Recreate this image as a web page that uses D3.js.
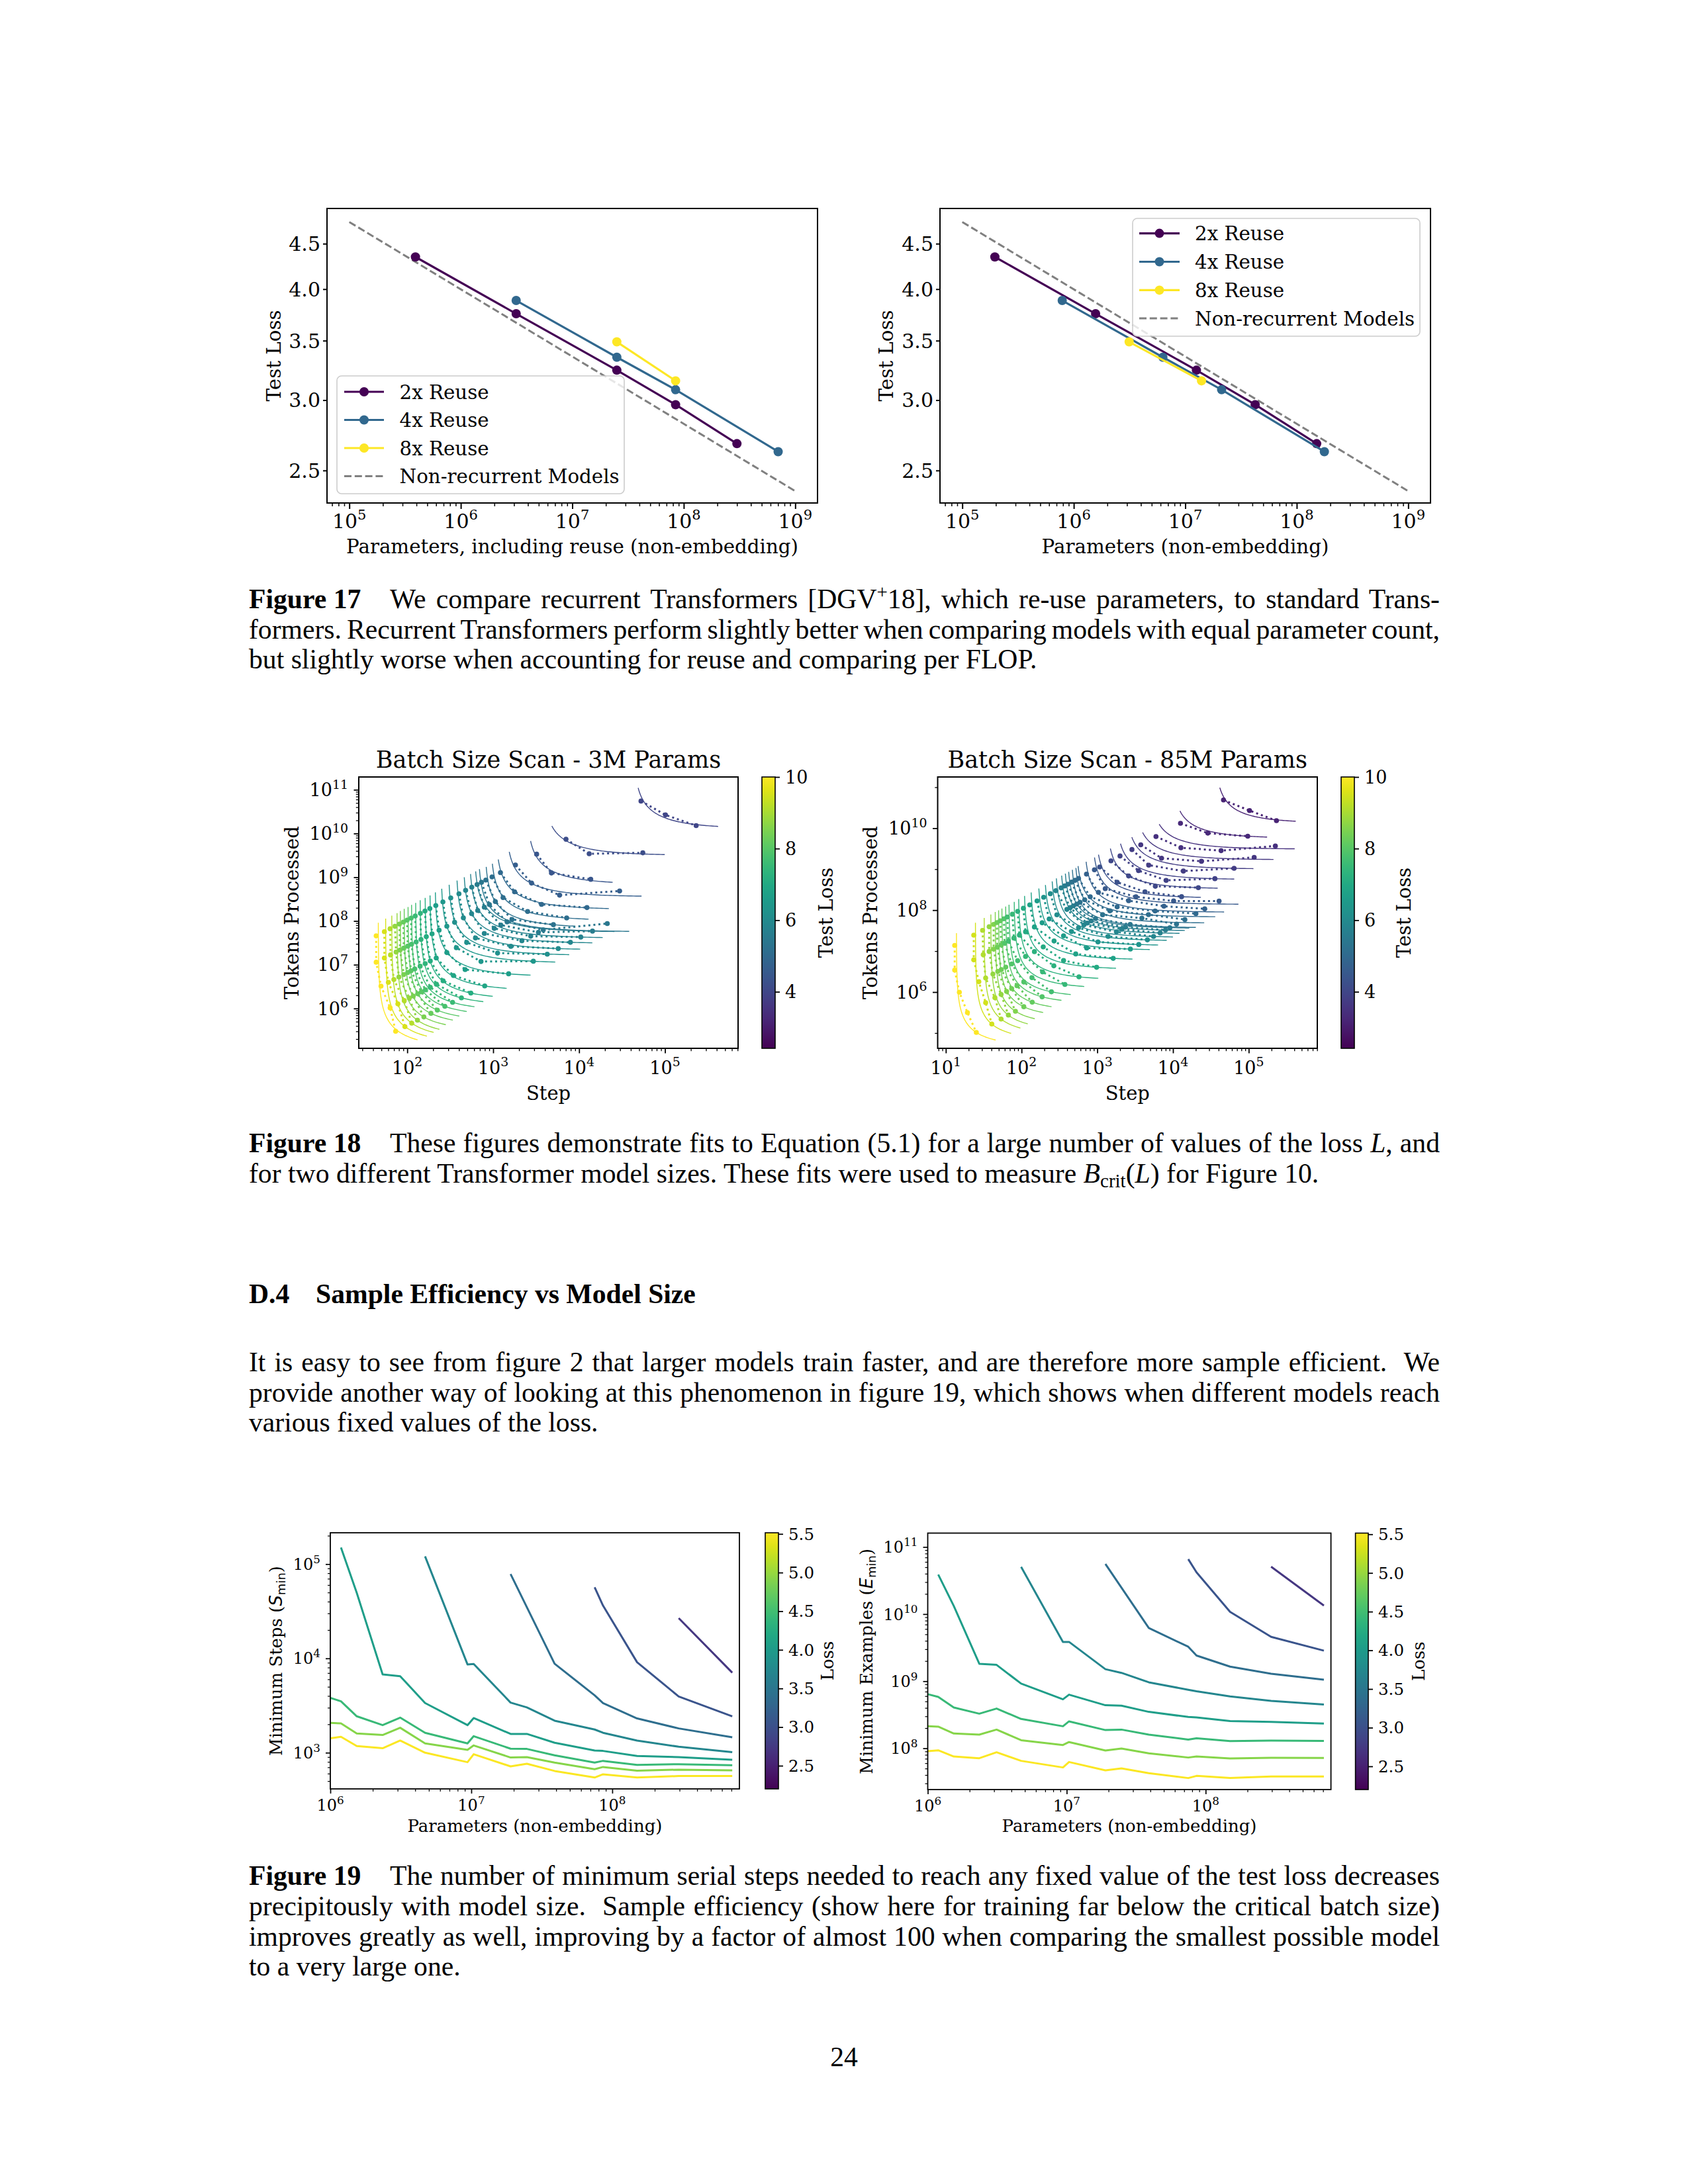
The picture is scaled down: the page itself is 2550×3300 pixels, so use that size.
<!DOCTYPE html>
<html><head><meta charset="utf-8">
<script src="https://cdn.jsdelivr.net/npm/d3@7"></script>
<style>body{margin:0;background:#fff}</style>
</head><body>
<svg id="page" width="2550" height="3300" xmlns="http://www.w3.org/2000/svg"></svg>
<script>
// ================= DATA =================
// ---- Figure 17 ----
const reuseNames = ["2x Reuse", "4x Reuse", "8x Reuse"];
const paramsWithReuse2x = [3.92e5, 3.14e6, 2.51e7, 8.45e7, 3.0e8];
const paramsWithReuse4x = [3.14e6, 2.51e7, 8.45e7, 7.03e8];
const paramsWithReuse8x = [2.51e7, 8.45e7];
const paramsNonEmb2x = [1.96e5, 1.57e6, 1.26e7, 4.24e7, 1.51e8];
const paramsNonEmb4x = [7.88e5, 6.3e6, 2.12e7, 1.77e8];
const paramsNonEmb8x = [3.14e6, 1.40e7];
const testLoss2x = [4.348, 3.753, 3.242, 2.965, 2.680];
const testLoss4x = [3.884, 3.353, 3.082, 2.625];
const testLoss8x = [3.489, 3.154];
const nonRecurrentParams = [1e5, 1e9];
const nonRecurrentLoss = [4.76, 2.37];
const f17YTicks = [2.5, 3.0, 3.5, 4.0, 4.5];

// ---- Figure 18 ----  (batch sizes in tokens; steps at which each loss level was reached)
const batchSizes = [1048576, 262144, 65536, 16384, 4096];
const loss3M = [10.0, 9.54, 9.16, 8.78, 8.48, 8.25, 8.02, 7.79, 7.56, 7.34, 7.11, 6.88, 6.65, 6.42, 6.20, 6.04, 5.89, 5.74, 5.59, 5.43, 5.28, 5.13, 4.98, 4.67, 4.44, 4.22, 3.99];
const steps3M_B1M = [43.5, 54.2, 63.2, 72.0, 81.0, 90.1, 99.6, 110.9, 123.9, 142.2, 160.8, 183.3, 215, 260, 321, 400, 478, 564, 650, 731, 822, 971, 1216, 1818, 3209, 7047, 52600];
const steps3M_B256K = [43.5, 54.2, 63.9, 74.2, 82.4, 91.2, 101.4, 112.2, 126.9, 144.6, 166.7, 194.5, 234.8, 289, 356, 450, 561, 661, 789, 904, 1061, 1305, 1776, 2800, 4769, 13120, 101400];
const steps3M_B64K = [49.5, 60.3, 69.9, 80.0, 91.2, 101.4, 110.9, 122.5, 141.3, 161.8, 185.5, 217.5, 289, 373, 492, 623, 789, 1030, 1230, 1453, 1656, 2518, 3657, 5932, 13680, 55200, 230700];
const steps3M_B16K = [63.2, 77.8, 92.3, 105.7, 117.5, 132.3, 146.3, 162.8, 185.5, 218.6, 261.5, 345, 472, 722, 1126, 1607, 2160, 2737, 3365, 3831, 5027, 7174, 12360, 29650, null, null, null];
const steps3M_B4K = [73.3, 94.0, 112.8, 131.5, 156.2, 188.8, 224, 274, 337, 427, 550, 798, 1514, 2937, 4264, 5723, 7932, 10470, 14330, 21300, null, null, null, null, null, null, null];
const sMin3M = [46, 56, 66, 76, 83, 92, 102, 112, 125, 141, 161, 183, 210, 247, 300, 370, 447, 527, 600, 667, 797, 930, 1065, 1395, 2449, 3790, 43000];
const eMin3M = [1.25e5, 1.56e5, 1.92e5, 2.27e5, 3.0e5, 3.96e5, 5.0e5, 6.6e5, 8.7e5, 1.17e6, 1.59e6, 2.52e6, 5.34e6, 1.10e7, 1.63e7, 2.19e7, 3.07e7, 4.07e7, 5.62e7, 5.7e7, 6.93e7, 1.02e8, 1.83e8, 3.6e8, 6.9e8, 3.17e9, 1.3e10];

const loss85M = [10.0, 9.47, 9.09, 8.78, 8.55, 8.33, 8.17, 7.95, 7.72, 7.49, 7.26, 7.03, 6.80, 6.58, 6.35, 6.12, 5.89, 5.74, 5.59, 5.43, 5.28, 5.13, 4.98, 4.75, 4.52, 4.29, 4.06, 3.91, 3.76, 3.61, 3.46, 3.30, 3.15];
const steps85M_B1M = [13.1, 23.4, 30.6, 37.4, 42.8, 47.3, 52.3, 58.6, 64.8, 75.7, 88.9, 105.8, 128.5, 160.4, 196.1, 240, 284, 333, 371, 410, 460, 509, 566, 721, 918, 1078, 1518, 1999, 2872, 3755, 5965, 12565, 46480];
const steps85M_B256K = [13.1, 23.4, 31.2, 37.4, 42.8, 47.9, 54.1, 59.8, 67.0, 79.3, 93.8, 113.1, 148.0, 187.1, 232, 293, 397, 439, 485, 537, 593, 683, 808, 1036, 1275, 1832, 2597, 3512, 4782, 7055, 12735, 28870, 102600];
const steps85M_B64K = [15.1, 27.3, 33.6, 41.9, 48.6, 54.1, 61.9, 74.1, 88.9, 113.1, 148, 193.5, 269, 359, 457, 566, 665, 736, 830, 949, 1177, 1468, 1832, 2597, 3239, 4266, 5846, 8123, 13710, 23760, 43170, 97230, 232600];
const steps85M_B16K = [19.3, 33.6, 44.5, 53.7, 63.5, 74.1, 87.1, 107.2, 137.4, 189.7, 267, 359, 520, 726, 1022, 1391, 1796, 2100, 2348, 2722, 3884, 4750, 5807, 7596, 10200, 12990, 21630, 35780, 64140, 118100, 224900, null, null];
const steps85M_B4K = [25.3, 40.5, 53.7, 67.0, 83.1, 107.2, 138.4, 187.1, 248, 374, 574, 981, 1623, 2740, 3535, 4593, 5541, 6776, 7961, 9104, 11130, 14364, 20090, 26280, 40640, null, null, null, null, null, null, null, null];
const sMin85M = [13.8, 24.6, 32.1, 39.3, 44.9, 49.7, 54.9, 61.5, 68.0, 79.5, 90.7, 107.9, 131, 164, 200, 245, 278, 326, 364, 402, 451, 499, 526, 671, 854, 949, 1336, 1759, 2384, 3117, 4951, 9675, 35800];
const eMin85M = [4.7e4, 6.5e4, 8.85e4, 1.13e5, 1.565e5, 2.35e5, 3.42e5, 5.14e5, 7.38e5, 1.206e6, 1.98e6, 3.58e6, 6.11e6, 1.055e7, 1.366e7, 1.781e7, 2.156e7, 2.642e7, 3.112e7, 3.564e7, 3.7e7, 4.8e7, 6.8e7, 8.9e7, 1.38e8, 1.97e8, 3.32e8, 5.57e8, 1.01e9, 1.7e9, 3.1e9, 5.74e9, 1.35e10];
const testLossTicks = [4, 6, 8, 10];

// ---- Figure 19 ----
const modelSizes = [1.0e6, 1.19e6, 1.54e6, 2.35e6, 3.13e6, 4.7e6, 9.4e6, 1.04e7, 1.9e7, 2.48e7, 3.9e7, 7.5e7, 8.6e7, 1.5e8, 2.96e8, 7.1e8];
const lossLevels19 = [5.5, 4.91, 4.44, 4.05, 3.72, 3.39, 3.06, 2.73];
const minSteps = [
  [1419, 1473, 1175, 1114, 1345, 1000, 793, 963, 716, 764, 640, 545, 590, 545, 565, 565],
  [2070, 2048, 1600, 1540, 1838, 1253, 1072, 1194, 889, 898, 785, 668, 705, 643, 661, 650],
  [3819, 3505, 2432, 1960, 2353, 1626, 1253, 1497, 1102, 1096, 938, 785, 819, 743, 755, 736],
  [null, 149700, 49600, 6760, 6480, 3360, 1960, 2330, 1581, 1581, 1274, 1055, 1044, 923, 898, 841],
  [null, null, null, null, null, 120700, 8630, 8720, 3397, 3020, 2185, 1762, 1626, 1345, 1157, 1012],
  [null, null, null, null, null, null, null, null, 78500, null, 8770, 4058, 3360, 2306, 1808, 1459],
  [null, null, null, null, null, null, null, null, null, null, null, 56800, 36300, 9100, 3947, 2432],
  [null, null, null, null, null, null, null, null, null, null, null, null, null, null, 26700, 7060]
];
const minExamples = [
  [9.06e7, 9.33e7, 7.55e7, 7.11e7, 8.73e7, 6.50e7, 5.18e7, 6.25e7, 4.69e7, 5.02e7, 4.25e7, 3.60e7, 3.88e7, 3.62e7, 3.79e7, 3.79e7],
  [2.13e8, 2.10e8, 1.66e8, 1.60e8, 1.90e8, 1.32e8, 1.12e8, 1.24e8, 9.27e7, 9.93e7, 8.40e7, 7.28e7, 7.55e7, 7.06e7, 7.22e7, 7.17e7],
  [6.40e8, 5.84e8, 4.06e8, 3.28e8, 3.91e8, 2.74e8, 2.13e8, 2.52e8, 1.87e8, 1.90e8, 1.60e8, 1.35e8, 1.41e8, 1.28e8, 1.30e8, 1.29e8],
  [null, 3.88e10, 1.32e10, 1.82e9, 1.75e9, 9.20e8, 5.37e8, 6.30e8, 4.38e8, 4.31e8, 3.49e8, 2.93e8, 2.89e8, 2.54e8, 2.48e8, 2.34e8],
  [null, null, null, null, null, 5.06e10, 3.85e9, 3.85e9, 1.51e9, 1.33e9, 9.63e8, 7.45e8, 7.06e8, 5.93e8, 5.10e8, 4.48e8],
  [null, null, null, null, null, null, null, null, 5.59e10, null, 6.21e9, 3.26e9, 2.41e9, 1.65e9, 1.29e9, 1.05e9],
  [null, null, null, null, null, null, null, null, null, null, null, 6.59e10, 4.19e10, 1.08e10, 4.58e9, 2.85e9],
  [null, null, null, null, null, null, null, null, null, null, null, null, null, null, 5.09e10, 1.34e10]
];
const lossTicks19 = [2.5, 3.0, 3.5, 4.0, 4.5, 5.0, 5.5];

// ================= DRAWING =================
const svg = d3.select("#page");
svg.append("rect").attr("width", 2550).attr("height", 3300).attr("fill", "#fff");
const defs = svg.append("defs");
const SERIF = "'DejaVu Serif', serif";
const SANS = "'DejaVu Sans', sans-serif";
const TIMES = "'Liberation Serif', 'Times New Roman', serif";
let clipId = 0;

function logMinor(lo, hi) {
  const out = [];
  for (let e = Math.floor(Math.log10(lo)) - 1; e <= Math.ceil(Math.log10(hi)); e++)
    for (let k = 2; k <= 9; k++) { const v = k * Math.pow(10, e); if (v >= lo && v <= hi) out.push(v); }
  return out;
}
function ticks(g, scale, orient, values, size, width) {
  const mk = orient === "bottom" ? d3.axisBottom : orient === "left" ? d3.axisLeft : d3.axisRight;
  const a = g.append("g").call(mk(scale).tickValues(values).tickSize(size).tickSizeOuter(0).tickFormat(""));
  a.select(".domain").remove();
  a.selectAll("line").attr("stroke", "#000").attr("stroke-width", width);
  return a;
}
function powLabel(g, x, y, exp, size, anchor) {
  const t = g.append("text").attr("x", x).attr("y", y).attr("font-family", SERIF)
    .attr("font-size", size).attr("text-anchor", anchor).attr("fill", "#000");
  t.append("tspan").text("10");
  t.append("tspan").attr("dy", -0.42 * size).attr("font-size", 0.7 * size).text(exp);
  return t;
}
function clip(x0, y0, x1, y1) {
  const id = "clip" + (clipId++);
  defs.append("clipPath").attr("id", id).append("rect").attr("x", x0).attr("y", y0).attr("width", x1 - x0).attr("height", y1 - y0);
  return "url(#" + id + ")";
}
function box(g, x0, y0, x1, y1, w) {
  g.append("rect").attr("x", x0).attr("y", y0).attr("width", x1 - x0).attr("height", y1 - y0)
    .attr("fill", "none").attr("stroke", "#000").attr("stroke-width", w);
}
function rotLabel(g, x, y, size, family, build) {
  const t = g.append("text").attr("transform", `translate(${x},${y}) rotate(-90)`)
    .attr("text-anchor", "middle").attr("font-family", family).attr("font-size", size).attr("fill", "#000");
  build(t);
  return t;
}
function colorbar(g, x0, x1, y0, y1, dom, tickVals, fmt, fs, labelX, labelText, labelFs) {
  const gid = "grad" + (clipId++);
  const grad = defs.append("linearGradient").attr("id", gid).attr("x1", 0).attr("y1", 1).attr("x2", 0).attr("y2", 0);
  d3.range(0, 21).forEach(i => grad.append("stop").attr("offset", i / 20).attr("stop-color", d3.interpolateViridis(i / 20)));
  g.append("rect").attr("x", x0).attr("y", y0).attr("width", x1 - x0).attr("height", y1 - y0).attr("fill", `url(#${gid})`);
  box(g, x0, y0, x1, y1, 1.6);
  const cs = d3.scaleLinear().domain(dom).range([y1, y0]);
  const tg = g.append("g").attr("transform", `translate(${x1},0)`);
  ticks(tg, cs, "right", tickVals, 7, 1.8);
  tickVals.forEach(v => g.append("text").attr("x", x1 + 15).attr("y", cs(v) + 0.36 * fs)
    .attr("font-family", SERIF).attr("font-size", fs).attr("fill", "#000").text(fmt(v)));
  rotLabel(g, labelX, (y0 + y1) / 2, labelFs, SERIF, t => t.text(labelText));
}

// ---------- Figure 17 ----------
const reuseColors = ["#440154", "#31688e", "#fde725"];
function fig17(x0, x1, xsets, xLabel, ylabX, legend) {
  const y0 = 315, y1 = 760, g = svg.append("g");
  const xs = d3.scaleLog().domain([Math.pow(10, 4.8), Math.pow(10, 9.2)]).range([x0, x1]);
  const ys = d3.scaleLog().domain([2.298, 4.93]).range([y1, y0]);
  const cp = clip(x0, y0, x1, y1);
  const pg = g.append("g").attr("clip-path", cp);
  const line = d3.line().x(d => xs(d[0])).y(d => ys(d[1]));
  pg.append("path").datum(d3.zip(nonRecurrentParams, nonRecurrentLoss)).attr("d", line)
    .attr("fill", "none").attr("stroke", "#808080").attr("stroke-width", 3).attr("stroke-dasharray", "11,4.8");
  const ysets = [testLoss2x, testLoss4x, testLoss8x];
  xsets.forEach((xv, i) => {
    const pts = d3.zip(xv, ysets[i]);
    pg.append("path").datum(pts).attr("d", line).attr("fill", "none").attr("stroke", reuseColors[i]).attr("stroke-width", 3.2);
    pg.selectAll(null).data(pts).enter().append("circle").attr("cx", d => xs(d[0])).attr("cy", d => ys(d[1]))
      .attr("r", 7).attr("fill", reuseColors[i]);
  });
  box(g, x0, y0, x1, y1, 2);
  const bx = g.append("g").attr("transform", `translate(0,${y1})`);
  ticks(bx, xs, "bottom", [1e5, 1e6, 1e7, 1e8, 1e9], 9, 2);
  ticks(bx, xs, "bottom", logMinor(xs.domain()[0], xs.domain()[1]), 5, 1.5);
  [5, 6, 7, 8, 9].forEach(e => powLabel(g, xs(Math.pow(10, e)), y1 + 38, String(e), 30, "middle"));
  const ly = g.append("g").attr("transform", `translate(${x0},0)`);
  ticks(ly, ys, "left", f17YTicks, 6, 2);
  f17YTicks.forEach(v => g.append("text").attr("x", x0 - 10).attr("y", ys(v) + 10.8).attr("text-anchor", "end")
    .attr("font-family", SERIF).attr("font-size", 30).attr("fill", "#000").text(v.toFixed(1)));
  g.append("text").attr("x", (x0 + x1) / 2).attr("y", 836).attr("text-anchor", "middle")
    .attr("font-family", SERIF).attr("font-size", 29.3).attr("fill", "#000").text(xLabel);
  rotLabel(g, ylabX, (y0 + y1) / 2, 29.3, SERIF, t => t.text("Test Loss"));
  // legend
  const L = legend;
  g.append("rect").attr("x", L.x).attr("y", L.y).attr("width", L.w).attr("height", L.h).attr("rx", 7)
    .attr("fill", "#fff").attr("fill-opacity", 0.8).attr("stroke", "#cccccc").attr("stroke-width", 1.6);
  const names = reuseNames.concat(["Non-recurrent Models"]);
  names.forEach((n, i) => {
    const cy = L.rows[i];
    if (i < 3) {
      g.append("line").attr("x1", L.hx0).attr("x2", L.hx1).attr("y1", cy).attr("y2", cy).attr("stroke", reuseColors[i]).attr("stroke-width", 3.2);
      g.append("circle").attr("cx", (L.hx0 + L.hx1) / 2).attr("cy", cy).attr("r", 7).attr("fill", reuseColors[i]);
    } else {
      g.append("line").attr("x1", L.hx0).attr("x2", L.hx1).attr("y1", cy).attr("y2", cy).attr("stroke", "#808080")
        .attr("stroke-width", 3).attr("stroke-dasharray", "11,4.8");
    }
    g.append("text").attr("x", L.tx).attr("y", cy + 10.5).attr("font-family", SERIF).attr("font-size", 29.3).attr("fill", "#000").text(n);
  });
}
fig17(494, 1235, [paramsWithReuse2x, paramsWithReuse4x, paramsWithReuse8x], "Parameters, including reuse (non-embedding)", 424,
  { x: 509, y: 568, w: 434, h: 178, rows: [592, 634.5, 677, 719.5], hx0: 520, hx1: 580, tx: 603.5 });
fig17(1420, 2161, [paramsNonEmb2x, paramsNonEmb4x, paramsNonEmb8x], "Parameters (non-embedding)", 1349,
  { x: 1711, y: 330, w: 434, h: 178, rows: [352.6, 395.5, 438.4, 481], hx0: 1721, hx1: 1782, tx: 1805 });

// ---------- Figure 18 ----------
function fig18(cfg) {
  const { x0, x1, y0, y1, xDom, yDom, xMajor, yMajor, yMinor, title, rows, loss, sMin, eMin, cbx0, cbx1, ylabX, cbLabX } = cfg;
  const g = svg.append("g");
  const xs = d3.scaleLog().domain(xDom).range([x0, x1]);
  const ys = d3.scaleLog().domain(yDom).range([y1, y0]);
  const cdom = [2.42, 10];
  const col = v => d3.interpolateViridis((v - cdom[0]) / (cdom[1] - cdom[0]));
  const pg = g.append("g").attr("clip-path", clip(x0, y0, x1, y1));
  const line = d3.line().x(d => xs(d[0])).y(d => ys(d[1]));
  const curves = loss.map((L, i) => {
    const pts = [];
    rows.forEach((r, j) => { if (r[i] != null) pts.push([r[i], r[i] * batchSizes[j]]); });
    return { L, pts, sMin: sMin[i], eMin: eMin[i] };
  });
  // fitted curves (S/Smin - 1)(E/Emin - 1) = 1
  curves.forEach(c => {
    const eTop = 2 * d3.max(c.pts, d => d[1]);
    const sEnd = 1.8 * d3.max(c.pts, d => d[0]);
    const s0 = c.sMin * eTop / (eTop - c.eMin);
    const u0 = Math.log(s0 - c.sMin), u1 = Math.log(sEnd - c.sMin);
    const fit = d3.range(0, 81).map(k => { const S = c.sMin + Math.exp(u0 + (u1 - u0) * k / 80); return [S, c.eMin * S / (S - c.sMin)]; });
    pg.append("path").datum(fit).attr("d", line).attr("fill", "none").attr("stroke", col(c.L)).attr("stroke-width", 1.4);
  });
  curves.forEach(c => {
    pg.append("path").datum(c.pts).attr("d", line).attr("fill", "none").attr("stroke", col(c.L))
      .attr("stroke-width", 3).attr("stroke-dasharray", "3,4.6");
    pg.selectAll(null).data(c.pts).enter().append("circle").attr("cx", d => xs(d[0])).attr("cy", d => ys(d[1]))
      .attr("r", 3.8).attr("fill", col(c.L));
  });
  box(g, x0, y0, x1, y1, 2);
  const bx = g.append("g").attr("transform", `translate(0,${y1})`);
  ticks(bx, xs, "bottom", xMajor, 7.5, 1.8);
  ticks(bx, xs, "bottom", logMinor(xDom[0], xDom[1]), 4.2, 1.3);
  xMajor.forEach(v => powLabel(g, xs(v), y1 + 38.5, String(Math.round(Math.log10(v))), 27, "middle"));
  const ly = g.append("g").attr("transform", `translate(${x0},0)`);
  ticks(ly, ys, "left", yMajor, 7.5, 1.8);
  ticks(ly, ys, "left", yMinor, 4.2, 1.3);
  yMajor.forEach(v => powLabel(g, x0 - 16, ys(v) + 9.8, String(Math.round(Math.log10(v))), 27, "end"));
  g.append("text").attr("x", (x0 + x1) / 2).attr("y", 1661.5).attr("text-anchor", "middle")
    .attr("font-family", SERIF).attr("font-size", 29).attr("fill", "#000").text("Step");
  g.append("text").attr("x", (x0 + x1) / 2).attr("y", 1160).attr("text-anchor", "middle")
    .attr("font-family", SERIF).attr("font-size", 35).attr("fill", "#000").text(title);
  rotLabel(g, ylabX, (y0 + y1) / 2, 29, SERIF, t => t.text("Tokens Processed"));
  colorbar(g, cbx0, cbx1, y0, y1, cdom, testLossTicks, v => String(v), 27, cbLabX, "Test Loss", 29);
}
fig18({ x0: 542, x1: 1115, y0: 1174, y1: 1584, xDom: [Math.pow(10, 1.436), Math.pow(10, 5.851)], yDom: [Math.pow(10, 5.089), Math.pow(10, 11.292)],
  xMajor: [1e2, 1e3, 1e4, 1e5], yMajor: [1e6, 1e7, 1e8, 1e9, 1e10, 1e11], yMinor: logMinor(Math.pow(10, 5.089), Math.pow(10, 11.292)),
  title: "Batch Size Scan - 3M Params", rows: [steps3M_B1M, steps3M_B256K, steps3M_B64K, steps3M_B16K, steps3M_B4K],
  loss: loss3M, sMin: sMin3M, eMin: eMin3M, cbx0: 1151, cbx1: 1171, ylabX: 450.5, cbLabX: 1258 });
fig18({ x0: 1416.5, x1: 1990, y0: 1174, y1: 1584, xDom: [Math.pow(10, 0.8925), Math.pow(10, 5.906)], yDom: [Math.pow(10, 4.627), Math.pow(10, 11.25)],
  xMajor: [1e1, 1e2, 1e3, 1e4, 1e5], yMajor: [1e6, 1e8, 1e10], yMinor: [1e5, 1e7, 1e9, 1e11],
  title: "Batch Size Scan - 85M Params", rows: [steps85M_B1M, steps85M_B256K, steps85M_B64K, steps85M_B16K, steps85M_B4K],
  loss: loss85M, sMin: sMin85M, eMin: eMin85M, cbx0: 2026, cbx1: 2046, ylabX: 1325, cbLabX: 2130.6 });

// ---------- Figure 19 ----------
function fig19(cfg) {
  const { x0, x1, y0, y1, yDom, yMajor, values, ylabX, cbx0, cbx1, cbLabX, yLetter, yWord } = cfg;
  const g = svg.append("g");
  const xs = d3.scaleLog().domain([1e6, Math.pow(10, 8.902)]).range([x0, x1]);
  const ys = d3.scaleLog().domain(yDom).range([y1, y0]);
  const cdom = [2.2, 5.515];
  const col = v => d3.interpolateViridis((v - cdom[0]) / (cdom[1] - cdom[0]));
  const pg = g.append("g").attr("clip-path", clip(x0, y0, x1, y1));
  const line = d3.line().x(d => xs(d[0])).y(d => ys(d[1]));
  values.forEach((row, i) => {
    const pts = modelSizes.map((n, j) => [n, row[j]]).filter(d => d[1] != null);
    pg.append("path").datum(pts).attr("d", line).attr("fill", "none").attr("stroke", col(lossLevels19[i]))
      .attr("stroke-width", 3).attr("stroke-linejoin", "round");
  });
  box(g, x0, y0, x1, y1, 1.8);
  const bx = g.append("g").attr("transform", `translate(0,${y1})`);
  ticks(bx, xs, "bottom", [1e6, 1e7, 1e8], 7, 1.7);
  ticks(bx, xs, "bottom", logMinor(1e6, Math.pow(10, 8.902)), 4, 1.2);
  [6, 7, 8].forEach(e => powLabel(g, xs(Math.pow(10, e)), y1 + 33, String(e), 24, "middle"));
  const ly = g.append("g").attr("transform", `translate(${x0},0)`);
  ticks(ly, ys, "left", yMajor, 7, 1.7);
  ticks(ly, ys, "left", logMinor(yDom[0], yDom[1]), 4, 1.2);
  yMajor.forEach(v => powLabel(g, x0 - 15, ys(v) + 8.7, String(Math.round(Math.log10(v))), 24, "end"));
  g.append("text").attr("x", (x0 + x1) / 2).attr("y", 2768).attr("text-anchor", "middle")
    .attr("font-family", SERIF).attr("font-size", 26).attr("fill", "#000").text("Parameters (non-embedding)");
  rotLabel(g, ylabX, (y0 + y1) / 2, 26, SERIF, t => {
    t.append("tspan").text(yWord + " (");
    t.append("tspan").attr("font-family", SANS).attr("font-style", "italic").text(yLetter);
    t.append("tspan").attr("font-family", SANS).attr("font-size", 18).attr("dy", 5).text("min");
    t.append("tspan").attr("dy", -5).text(")");
  });
  colorbar(g, cbx0, cbx1, y0, y1, cdom, lossTicks19, v => v.toFixed(1), 24.5, cbLabX, "Loss", 26);
}
fig19({ x0: 499, x1: 1117, y0: 2316, y1: 2703, yDom: [Math.pow(10, 2.616), Math.pow(10, 5.332)], yMajor: [1e3, 1e4, 1e5],
  values: minSteps, ylabX: 426, cbx0: 1156, cbx1: 1176, cbLabX: 1258.5, yLetter: "S", yWord: "Minimum Steps" });
fig19({ x0: 1401.5, x1: 2010.6, y0: 2316.5, y1: 2704, yDom: [Math.pow(10, 7.385), Math.pow(10, 11.207)], yMajor: [1e8, 1e9, 1e10, 1e11],
  values: minExamples, ylabX: 1318, cbx0: 2047.6, cbx1: 2067, cbLabX: 2151.5, yLetter: "E", yWord: "Minimum Examples" });

// ================= PAGE TEXT =================
const FS = 41.67, LM = 376, RM = 2175, CAPX = 589;
function textLine(y, x0, x1, segs, justify, opts) {
  opts = opts || {};
  const t = svg.append("text").attr("x", x0).attr("y", y).attr("font-family", TIMES)
    .attr("font-size", opts.fs || FS).attr("fill", "#000").style("white-space", "pre");
  segs.forEach(s => {
    if (typeof s === "string") s = { t: s };
    const ts = t.append("tspan").text(s.t);
    if (s.b) ts.attr("font-weight", "bold");
    if (s.i) ts.attr("font-style", "italic");
    if (s.dy) ts.attr("dy", s.dy);
    if (s.fs) ts.attr("font-size", s.fs);
  });
  if (justify) {
    const w = t.node().getComputedTextLength();
    const txt = segs.map(s => typeof s === "string" ? s : s.t).join("");
    const n = (txt.match(/ /g) || []).length;
    if (n > 0) t.attr("word-spacing", (x1 - x0 - w) / n);
  }
  return t;
}
// Figure 17 caption
textLine(919, LM, RM, [{ t: "Figure 17", b: true }], false);
textLine(919, CAPX, RM, ["We compare recurrent Transformers [DGV", { t: "+", fs: 29, dy: -15 }, { t: "18], which re-use parameters, to standard Trans-", dy: 15 }], true);
textLine(964.5, LM, RM, ["formers. Recurrent Transformers perform slightly better when comparing models with equal parameter count,"], true);
textLine(1010, LM, RM, ["but slightly worse when accounting for reuse and comparing per FLOP."], false);
// Figure 18 caption
textLine(1741, LM, RM, [{ t: "Figure 18", b: true }], false);
textLine(1741, CAPX, RM, ["These figures demonstrate fits to Equation (5.1) for a large number of values of the loss ", { t: "L", i: true }, ", and"], true);
textLine(1786.5, LM, RM, ["for two different Transformer model sizes. These fits were used to measure ", { t: "B", i: true }, { t: "crit", fs: 29, dy: 7 }, { t: "(", dy: -7 }, { t: "L", i: true }, ") for Figure 10."], false);
// Section heading
textLine(1969, LM, RM, [{ t: "D.4", b: true }], false);
textLine(1969, 477, RM, [{ t: "Sample Efficiency vs Model Size", b: true }], false);
// Paragraph
textLine(2072, LM, RM, ["It is easy to see from figure 2 that larger models train faster, and are therefore more sample efficient.  We"], true);
textLine(2117.5, LM, RM, ["provide another way of looking at this phenomenon in figure 19, which shows when different models reach"], true);
textLine(2163, LM, RM, ["various fixed values of the loss."], false);
// Figure 19 caption
textLine(2848, LM, RM, [{ t: "Figure 19", b: true }], false);
textLine(2848, CAPX, RM, ["The number of minimum serial steps needed to reach any fixed value of the test loss decreases"], true);
textLine(2893.8, LM, RM, ["precipitously with model size.  Sample efficiency (show here for training far below the critical batch size)"], true);
textLine(2939.6, LM, RM, ["improves greatly as well, improving by a factor of almost 100 when comparing the smallest possible model"], true);
textLine(2985.4, LM, RM, ["to a very large one."], false);
// page number
svg.append("text").attr("x", 1275).attr("y", 3122).attr("text-anchor", "middle").attr("font-family", TIMES)
  .attr("font-size", FS).attr("fill", "#000").text("24");
</script>
</body></html>
